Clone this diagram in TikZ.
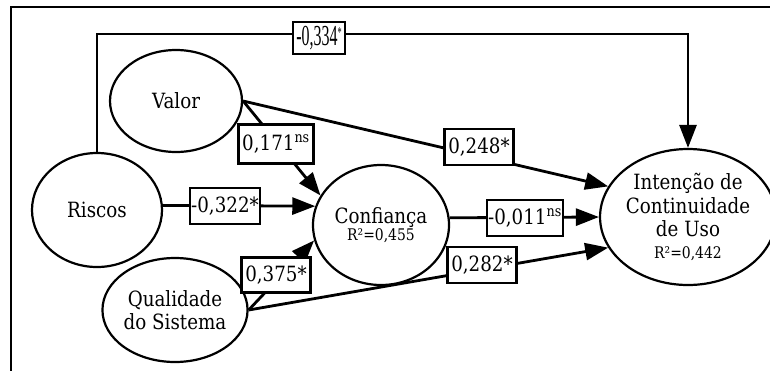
\documentclass[tikz,border=0pt]{standalone}
\usepackage{fontspec}
\setmainfont[FakeStretch=0.87]{DejaVu Serif}
\newfontfamily\narrowserif[FakeStretch=0.55]{Liberation Serif}
\usetikzlibrary{shapes.geometric,arrows.meta}
\begin{document}
\begin{tikzpicture}[x=1pt,y=-1pt,
  latent/.style={ellipse, draw, line width=2.2pt, inner sep=0pt, align=center,
    font=\fontsize{21}{23.5}\selectfont},
  coef/.style={draw, fill=white, line width=2.6pt, inner xsep=3.5pt, inner ysep=0pt,
    minimum height=36pt, font=\fontsize{21}{22}\selectfont},
  link/.style={line width=2.8pt, -{Triangle[length=23pt,width=17pt]}},
  frameline/.style={line width=1.6pt}]
\useasboundingbox (0,0) rectangle (770,370);
\draw[frameline] (11,380) -- (11,7) -- (780,7);

\node[latent, minimum width=132pt, minimum height=102pt] (valor) at (176,101) {Valor};
\node[latent, minimum width=130pt, minimum height=114pt] (riscos) at (97,210) {Riscos};
\node[latent, minimum width=130pt, minimum height=104pt] (qual) at (175,310) {Qualidade\\do Sistema};
\node[latent, minimum width=136pt, minimum height=120pt] (conf) at (381,225)
  {Confiança\\[-7pt]{\fontsize{16}{17}\selectfont R²=0,455}};
\node[latent, minimum width=160pt, minimum height=136pt] (int) at (688,217)
  {Intenção de\\Continuidade\\de Uso\\[-2pt]{\fontsize{16}{17}\selectfont R²=0,442}};

\coordinate (top) at (0,34);
\draw[link] (riscos.north) |- (int.north |- top) -- (int.north);
\draw[link] (valor.east) -- (conf.154);
\draw[link] (valor.east) -- (int.159);
\draw[link] (riscos.4) -- (conf.164);
\draw[link] (conf.6) -- (int.180);
\draw[link] (qual.east) -- (conf.193);
\draw[link] (qual.east) -- (int.201);

\node[coef, minimum height=32pt, minimum width=52pt, inner xsep=1pt] (l334) at (319,38)
  {\narrowserif\fontsize{29}{29}\selectfont -0,334\raisebox{8pt}{\fontsize{15}{15}\selectfont *}};
\node[coef, minimum height=39pt] (l171) at (276,144) {0,171\textsuperscript{ns}};
\node[coef, inner xsep=1pt] (l322) at (225,206) {-0,322*};
\node[coef] (l248) at (479,147) {0,248*};
\node[coef, inner xsep=1pt] (l011) at (525,218) {-0,011\textsuperscript{ns}};
\node[coef, minimum height=35pt] (l375) at (276,275) {0,375*};
\node[coef] (l282) at (482,265) {0,282*};
\end{tikzpicture}
\end{document}
